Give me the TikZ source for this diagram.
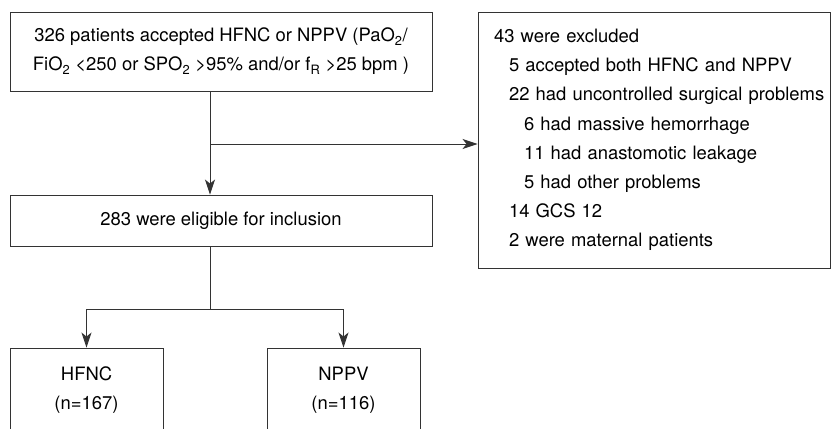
\documentclass[tikz,border=0pt]{standalone}
\usepackage{fontspec}
\setmainfont{TeX Gyre Heros}
\usetikzlibrary{arrows.meta,positioning}
\newcommand{\sbs}[1]{\textsubscript{#1}}

\begin{document}
\begin{tikzpicture}[x=1bp,y=-1bp,
    box/.style={draw=black!80, line width=0.9bp, inner sep=0pt, align=center,
        font=\fontsize{18.5}{29.3}\selectfont},
    line/.style={draw=black!80, line width=0.9bp},
    arr/.style={line, -{Stealth[length=15bp,width=10bp,inset=4bp]}}]
    \useasboundingbox (0,0) rectangle (832,428);
    \node[box, minimum width=422bp, minimum height=79bp] (start) at (221,51.5)
        {326 patients accepted HFNC or NPPV (PaO\sbs{2}/\\
         FiO\sbs{2} <250 or SPO\sbs{2} >95\% and/or f\sbs{R} >25 bpm )};
    \node[box, minimum width=422bp, minimum height=51bp] (mid) at (221,220.5)
        {283 were eligible for inclusion};
    \node[box, align=left, text width=350bp, minimum width=352bp, minimum height=256bp] (excl) at (654,140)
        {\hspace*{15bp}43 were excluded\\
         \hspace*{30bp}5 accepted both HFNC and NPPV\\
         \hspace*{30bp}22 had uncontrolled surgical problems\\
         \hspace*{45bp}6 had massive hemorrhage\\
         \hspace*{45bp}11 had anastomotic leakage\\
         \hspace*{45bp}5 had other problems\\
         \hspace*{30bp}14 GCS 12\\
         \hspace*{30bp}2 were maternal patients};
    \node[box, minimum width=153bp, minimum height=84bp] (hfnc) at (86.5,390) {HFNC\\(n=167)};
    \node[box, minimum width=153bp, minimum height=84bp] (nppv) at (343.5,390) {NPPV\\(n=116)};
    \coordinate (split) at (210,144);
    \coordinate (fork) at (210,309);
    \draw[arr] (start.south -| split) -- (mid.north -| split);
    \draw[arr] (split) -- (split -| excl.west);
    \draw[line] (mid.south -| fork) -- (fork);
    \draw[arr] (fork) -| (hfnc.north);
    \draw[arr] (fork) -| (nppv.north);
\end{tikzpicture}
\end{document}
